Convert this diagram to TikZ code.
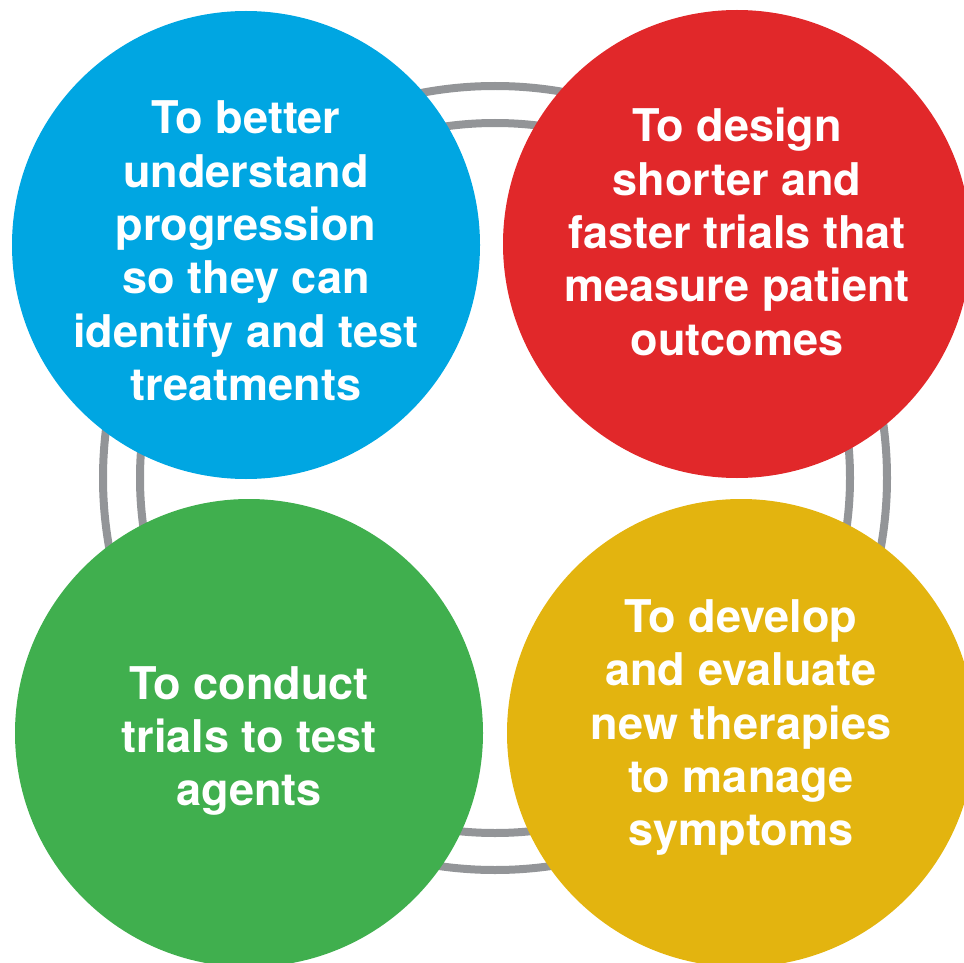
\documentclass[tikz,border=0pt]{standalone}
\usepackage{fontspec}
\setmainfont{TeX Gyre Heros}
\usepackage{tikz}
\definecolor{goalblue}{RGB}{0,166,226}
\definecolor{goalred}{RGB}{225,40,42}
\definecolor{goalgreen}{RGB}{64,175,78}
\definecolor{goalyellow}{RGB}{227,180,15}
\definecolor{ringgray}{RGB}{147,149,152}
\tikzset{
    goalnode/.style={
        circle,
        draw=none, % 无边框
        minimum size=351pt,
        inner sep=0
    },
    goaltext/.style={
        align=center,
        inner sep=0,
        text=white,
        font=\bfseries\fontsize{33.8}{40}\selectfont
    },
    ring/.style={
        draw=ringgray,
        line width=6pt % 灰色圆环
    }
}
\begin{document}
\begin{tikzpicture}[x=0.75pt, y=-0.75pt]
    \useasboundingbox (0,0) rectangle (964,963);
    % 背景圆环
    \coordinate (hub) at (495,478);
    \draw[ring] (hub) circle[radius=392];
    \draw[ring] (hub) circle[radius=355];
    % 四个目标
    \node[goalnode, fill=goalblue] (understand) at (246,245) {};
    \node[goalnode, fill=goalred] (design) at (737,244) {};
    \node[goalnode, fill=goalgreen] (conduct) at (249,733) {};
    \node[goalnode, fill=goalyellow] (develop) at (741,733) {};
    % 文字
    \node[goaltext, yshift=-4.5pt] (understand-text) at (understand)
        {To better\\understand\\progression\\so they can\\identify and test\\treatments};
    \node[goaltext, yshift=9pt] (design-text) at (design)
        {To design\\shorter and\\faster trials that\\measure patient\\outcomes};
    \node[goaltext, yshift=-6pt] (conduct-text) at (conduct)
        {To conduct\\trials to test\\agents};
    \node[goaltext, yshift=4pt] (develop-text) at (develop)
        {To develop\\and evaluate\\new therapies\\to manage\\symptoms};
\end{tikzpicture}
\end{document}
